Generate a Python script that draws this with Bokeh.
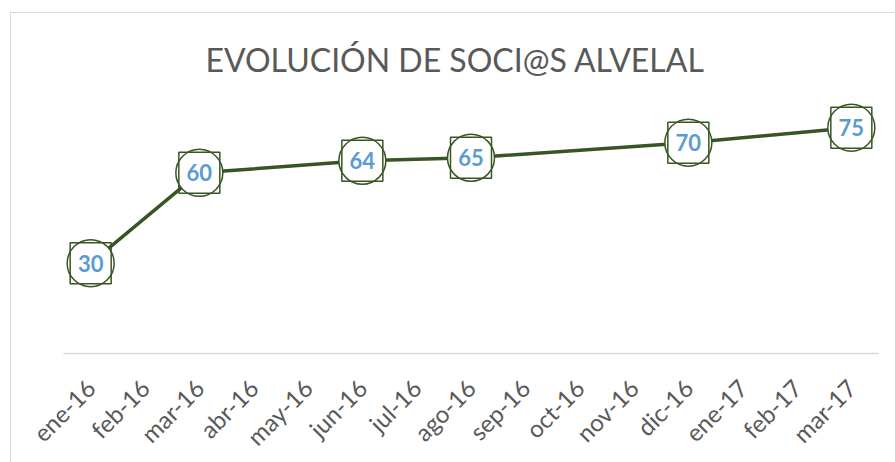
from bokeh.plotting import figure
from bokeh.models import Range1d, ColumnDataSource
from bokeh.core.properties import value
from bokeh.embed import file_html
from bokeh.resources import INLINE
import math

months = ["ene-16", "feb-16", "mar-16", "abr-16", "may-16", "jun-16", "jul-16",
          "ago-16", "sep-16", "oct-16", "nov-16", "dic-16", "ene-17", "feb-17", "mar-17"]
point_months = ["ene-16", "mar-16", "jun-16", "ago-16", "dic-16", "mar-17"]
socios = [30, 60, 64, 65, 70, 75]
title_text = "EVOLUCIÓN DE SOCI@S ALVELAL"

src = ColumnDataSource(data=dict(x=point_months, y=socios, lab=[str(v) for v in socios]))

p = figure(x_range=months, y_range=Range1d(0, 88), width=885, height=450,
           output_backend="svg", toolbar_location=None,
           min_border_left=52, min_border_right=18, min_border_top=75, min_border_bottom=107,
           margin=(12, 0, 0, 10),
           styles={"border-top": "1px solid #d9d9d9", "border-left": "1px solid #d9d9d9"})
p.outline_line_color = None
p.background_fill_color = "white"
p.border_fill_color = "white"
p.xgrid.grid_line_color = None
p.ygrid.grid_line_color = None
p.yaxis.visible = False

p.title.text = title_text
p.title.align = "left"
p.title.text_font = "Lato"
p.title.text_font_style = "normal"
p.title.text_font_size = "32px"
p.title.text_color = "#595959"
p.title.standoff = 20
p.title.offset = 142

ax = p.xaxis[0]
ax.axis_line_color = "#d9d9d9"
ax.axis_line_width = 1.5
ax.major_tick_line_color = None
ax.minor_tick_line_color = None
ax.major_label_orientation = math.pi / 4
ax.major_label_text_font = "Lato"
ax.major_label_text_font_size = "24px"
ax.major_label_text_color = "#595959"
ax.major_label_standoff = 24
p.x_range.range_padding = 0

p.line("x", "y", source=src, line_color="#375623", line_width=3.5)
p.scatter("x", "y", source=src, marker="circle", size=47, fill_color="white",
          line_color="#375623", line_width=1.5)
p.scatter("x", "y", source=src, marker="square", size=41, fill_color=None,
          line_color="#375623", line_width=1.5)
p.text("x", "y", text="lab", source=src, text_align="center", text_baseline="middle",
       text_font=value("Lato"), text_font_style="bold", text_font_size="22px",
       text_color="#5B9BD5")

open("out.html", "w").write(file_html(p, INLINE))
